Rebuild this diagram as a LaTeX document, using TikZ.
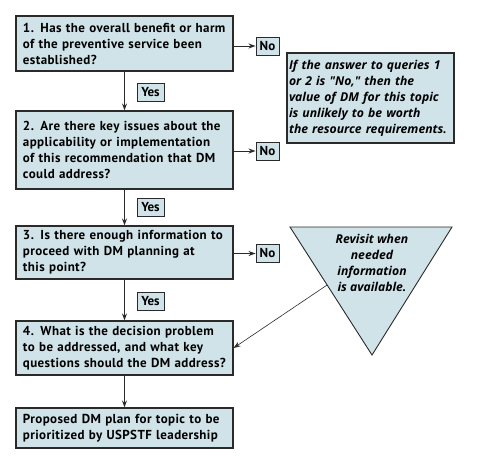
\documentclass[tikz,border=0pt]{standalone}
\usepackage{fontspec}
\setmainfont[LetterSpace=3]{PT Sans}
\newfontfamily\tagfont{PT Sans}
\newfontfamily\noteit{Open Sans}
\usetikzlibrary{arrows.meta,calc}
\definecolor{boxfill}{HTML}{CFE3E9}
\definecolor{edge}{HTML}{2A2A2A}
\begin{document}
\begin{tikzpicture}[x=1pt,y=-1pt,
  font=\fontsize{13}{16}\selectfont\bfseries,
  qbox/.style={draw=edge,line width=1.1pt,fill=boxfill,minimum width=217pt,text width=203pt,align=left,inner xsep=7pt,inner ysep=0pt},
  tag/.style={draw=edge,line width=0.9pt,fill=boxfill,inner sep=0pt,minimum height=18pt,font=\tagfont\fontsize{13}{16}\selectfont\bfseries},
  flow/.style={draw=edge,line width=1pt,-{Stealth[length=7pt,width=5pt]}},
  thin/.style={draw=edge,line width=0.6pt,-{Stealth[length=7pt,width=5pt]}},
  ittext/.style={font=\noteit\fontsize{12.2}{16}\selectfont\bfseries\itshape}]
\useasboundingbox (0,0) rectangle (480,458);
\node[qbox,minimum height=55pt] (b1) at (124.5,43.5) {\mbox{1. Has the overall benefit or harm}\\\mbox{of the preventive service been}\\established?};
\node[qbox,minimum height=78pt] (b2) at (124.5,150) {\mbox{2. Are there key issues about the}\\\mbox{applicability or implementation}\\\mbox{of this recommendation that DM}\\\mbox{could address?}};
\node[qbox,minimum height=53pt] (b3) at (124.5,252.5) {\mbox{3. Is there enough information to}\\\mbox{proceed with DM planning at}\\\mbox{this point?}};
\node[qbox,minimum height=54pt] (b4) at (124.5,348) {\mbox{4. What is the decision problem}\\\mbox{to be addressed, and what key}\\\mbox{questions should the DM address?}};
\node[qbox,minimum height=40pt] (b5) at (124.5,428) {\mbox{Proposed DM plan for topic to be}\\\mbox{prioritized by USPSTF leadership}};
\node[tag,minimum width=23pt] (n1) at (267.5,46) {No};
\node[tag,minimum width=23pt] (n2) at (267.5,151) {No};
\node[tag,minimum width=23pt] (n3) at (267.5,253.5) {No};
\node[tag,minimum width=27pt] (y1) at (150.5,92.5) {Yes};
\node[tag,minimum width=27pt] (y2) at (150.5,207.5) {Yes};
\node[tag,minimum width=27pt] (y3) at (150.5,301) {Yes};
\node[draw=edge,line width=1.1pt,fill=boxfill,minimum width=167pt,minimum height=90pt,text width=163pt,align=left,inner sep=0pt,ittext] (note) at (370.5,98) {If the answer to queries 1\\or 2 is "No," then the\\value of DM for this topic\\is unlikely to be worth\\the resource requirements.};
\coordinate (tA) at (290,227);
\coordinate (tB) at (452,227);
\coordinate (tC) at (372,355);
\draw[edge,line width=0.9pt,fill=boxfill] (tA) -- (tB) -- (tC) -- cycle;
\node[align=center,ittext] (rev) at (372,263) {Revisit when\\needed\\information\\is available.};
\coordinate (tE) at ($(tA)!0.453!(tC)$);
\draw[flow] (b1.east |- n1) -- (n1.west);
\draw[flow] (b2.east |- n2) -- (n2.west);
\draw[flow] (b3.east |- n3) -- (n3.west);
\draw[flow] (b1.south) -- (b2.north);
\draw[flow] (b2.south) -- (b3.north);
\draw[flow] (b3.south) -- (b4.north);
\draw[flow] (b4.south) -- (b5.north);
\draw[thin] (tE) -- (b4.east);
\end{tikzpicture}
\end{document}
